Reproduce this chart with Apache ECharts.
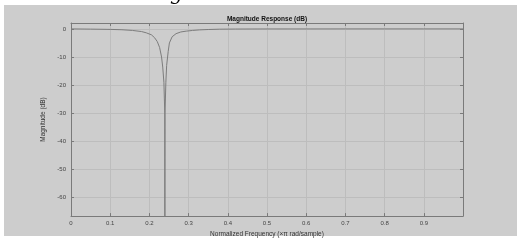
<!DOCTYPE html>
<html>
<head>
<meta charset="utf-8">
<script src="https://cdn.jsdelivr.net/npm/echarts@6/dist/echarts.min.js"></script>
<style>
  html, body { margin: 0; padding: 0; background: #ffffff; }
  #bg { position: absolute; left: 4px; top: 5px; width: 513px; height: 231px; background: #cdcdcd; }
  #chart { position: absolute; left: 0; top: 0; width: 517px; height: 243px; }
</style>
</head>
<body>
<div id="bg"></div>
<div id="chart"></div>
<script>
// normalized frequency (x pi rad/sample)
const freq = [0, 0.05, 0.1, 0.13, 0.157, 0.18, 0.192, 0.205, 0.213, 0.22, 0.226, 0.231,
    0.234, 0.237, 0.2392, 0.2395, 0.2398, 0.242, 0.244, 0.248, 0.251, 0.258, 0.268,
    0.28, 0.294, 0.31, 0.328, 0.35, 0.379, 0.42, 0.5, 0.6, 0.7, 0.8, 0.9, 1.0]
// magnitude in dB (notch goes below the axis floor)
const magDb = [0, -0.08, -0.18, -0.3, -0.55, -0.95, -1.4, -2.1, -3.1, -4.5, -6.6, -10,
    -13.6, -19, -30, -90, -30, -19, -13, -8, -5, -2.8, -1.7,
    -1.1, -0.8, -0.55, -0.35, -0.22, -0.1, -0.05, -0.02, -0.01, 0, 0, 0, 0]

const xMin = 0, xMax = 1, xStep = 0.1
const yMin = -66.7, yMax = 2.1

const font = 'Liberation Sans'
const axisCol = '#7a7a7a'
const gridCol = '#bdbdbd'

const chart = echarts.init(document.getElementById('chart'))

// hide labels that are not multiples of 10
function yLabel(v) {
    return Math.abs(v % 10) < 1e-6 ? String(v) : ''
}

const option = {
    animation: false,
    backgroundColor: 'transparent',
    grid: { left: 71, right: 54, top: 23, bottom: 23 },
    xAxis: [
        {
            type: 'value', min: xMin, max: xMax, interval: xStep,
            name: 'Normalized Frequency (×π rad/sample)',
            nameLocation: 'middle', nameGap: 10,
            nameTextStyle: { fontFamily: font, fontSize: 6.5, color: '#333' },
            axisLine: { onZero: false, lineStyle: { color: axisCol, width: 1 } },
            axisTick: { inside: true, length: 3, lineStyle: { color: axisCol } },
            axisLabel: { fontFamily: font, fontSize: 6, color: '#444', margin: 4, showMaxLabel: false },
            splitLine: { show: true, lineStyle: { color: gridCol, width: 1 } }
        },
        {
            type: 'value', position: 'top', min: xMin, max: xMax, interval: xStep,
            axisLine: { show: true, onZero: false, lineStyle: { color: axisCol, width: 1 } },
            axisTick: { show: true, inside: true, length: 3, lineStyle: { color: axisCol } },
            axisLabel: { show: false },
            splitLine: { show: false }
        }
    ],
    yAxis: [
        {
            type: 'value', min: yMin, max: yMax, minInterval: 10, maxInterval: 10,
            name: 'Magnitude (dB)',
            nameLocation: 'middle', nameGap: 14,
            nameTextStyle: { fontFamily: font, fontSize: 6.5, color: '#333' },
            axisLine: { show: true, onZero: false, lineStyle: { color: axisCol, width: 1 } },
            axisTick: { show: true, inside: true, length: 3, lineStyle: { color: axisCol } },
            axisLabel: { fontFamily: font, fontSize: 6, color: '#444', margin: 5, formatter: yLabel },
            splitLine: { show: true, lineStyle: { color: gridCol, width: 1 } }
        },
        {
            type: 'value', position: 'right', min: yMin, max: yMax, minInterval: 10, maxInterval: 10,
            axisLine: { show: true, onZero: false, lineStyle: { color: axisCol, width: 1 } },
            axisTick: { show: true, inside: true, length: 3, lineStyle: { color: axisCol } },
            axisLabel: { show: false },
            splitLine: { show: false }
        }
    ],
    graphic: [
        {
            type: 'text', x: 267, y: 19,
            style: {
                text: 'Magnitude Response (dB)', fill: '#111',
                font: 'bold 6.5px "Liberation Sans"',
                textAlign: 'center', textVerticalAlign: 'middle'
            }
        },
        {
            // bottom of a cut-off glyph above the chart
            type: 'text', x: 170, y: -15,
            style: { text: 'g', fill: '#000', font: 'italic 20px "DejaVu Serif"' }
        }
    ],
    series: [
        {
            type: 'line',
            data: freq.map((f, i) => [f, magDb[i]]),
            showSymbol: false,
            clip: true,
            lineStyle: { color: '#7c7c7c', width: 1 }
        }
    ]
}

chart.setOption(option)
</script>
</body>
</html>
